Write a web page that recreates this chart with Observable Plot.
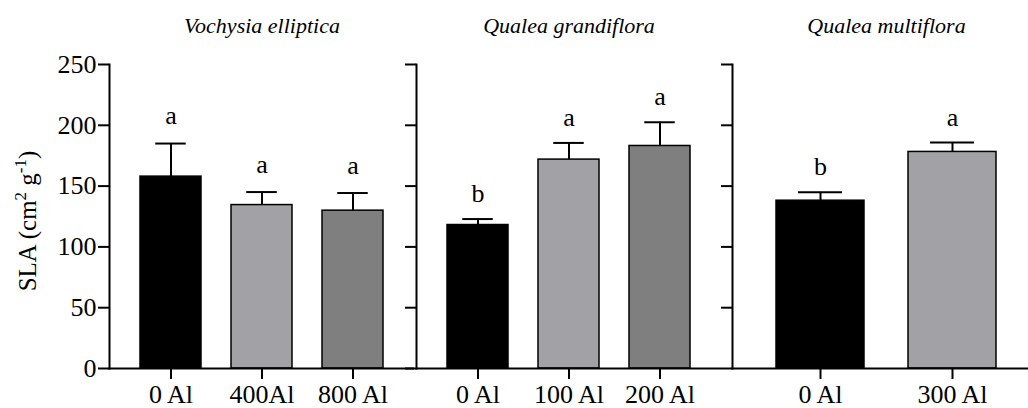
<!DOCTYPE html>
<html><head><meta charset="utf-8">
<script src="https://cdn.jsdelivr.net/npm/d3@7"></script>
<script src="https://cdn.jsdelivr.net/npm/@observablehq/plot@0.6"></script>
<style>
body{margin:0;background:#fff;}
#chart{position:relative;width:1028px;height:408px;overflow:hidden;background:#fff;}
#chart svg{position:absolute;top:0;}
</style></head><body><div id="chart"></div>
<script>
const species = ["Vochysia elliptica", "Qualea grandiflora", "Qualea multiflora"];

const treatments1 = ["0 Al", "400Al", "800 Al"];
const means1 = [157.8, 134.4, 129.8];
const se1 = [27.2, 10.7, 14.5];
const letters1 = ["a", "a", "a"];

const treatments2 = ["0 Al", "100 Al", "200 Al"];
const means2 = [118.0, 171.8, 183.0];
const se2 = [4.9, 13.7, 19.5];
const letters2 = ["b", "a", "a"];

const treatments3 = ["0 Al", "300 Al"];
const means3 = [138.0, 178.1];
const se3 = [6.9, 7.7];
const letters3 = ["b", "a"];

const yTicks = [0, 50, 100, 150, 200, 250];
const yLabel = "SLA (cm";

const barColors = ["#000000", "#a2a1a6", "#7f7f7f"];
const font = "'Liberation Serif', 'Times New Roman', serif";

function panel({left, marginLeft, width, title, treatments, means, se, letters, showY, letterDy}) {
  const data = treatments.map((t, i) => ({t, i, m: means[i], e: means[i] + se[i], l: letters[i]}));
  const range = width - marginLeft;
  const step = range / (treatments.length + 1/3);
  const bw = step * 2 / 3;
  const svg = Plot.plot({
    width, height: 408,
    marginLeft, marginRight: 0, marginTop: 64, marginBottom: 40,
    style: {fontFamily: font, fontSize: "26px", color: "black", background: "transparent"},
    x: {domain: treatments, paddingInner: 1/3, paddingOuter: 1/3, label: null},
    y: {domain: [0, 250], label: null},
    color: {type: "ordinal", domain: [0, 1, 2], range: barColors},
    marks: [
      Plot.ruleX(data, {x: "t", y1: "m", y2: "e", stroke: "black", strokeWidth: 2}),
      Plot.tickY(data, {x: "t", y: "e", stroke: "black", strokeWidth: 2, insetLeft: bw / 4, insetRight: bw / 4}),
      Plot.barY(data, {x: "t", y: "m", fill: "i", stroke: "black", strokeWidth: 1.5}),
      Plot.text(data, {x: "t", y: "e", text: "l", lineAnchor: "bottom", dy: -letterDy, fontSize: 26, fill: "black"}),
      Plot.axisY({ticks: yTicks, tickSize: 11, tickPadding: 2, strokeWidth: 2, fontSize: 26,
        tickFormat: showY ? (d => d) : (() => ""), label: null}),
      Plot.axisX({tickSize: 11, tickPadding: 5, strokeWidth: 2, fontSize: 26, label: null}),
      Plot.frame({anchor: "left", stroke: "black", strokeWidth: 2}),
      Plot.frame({anchor: "bottom", stroke: "black", strokeWidth: 2}),
      Plot.text([title], {frameAnchor: "top", lineAnchor: "bottom", dy: -32, fontStyle: "italic", fontSize: 22, fill: "black", ariaLabel: "title"})
    ]
  });
  svg.style.left = left + "px";
  d3.select(svg).selectAll('g[aria-label="title"] text').attr("letter-spacing", 0.8);
  return svg;
}

const chart = document.getElementById("chart");
const s1 = panel({left: 0, marginLeft: 109, width: 414, title: species[0], treatments: treatments1, means: means1, se: se1, letters: letters1, showY: true, letterDy: 19.5});
const s2 = panel({left: 396, marginLeft: 20, width: 325, title: species[1], treatments: treatments2, means: means2, se: se2, letters: letters2, showY: false, letterDy: 17});
const s3 = panel({left: 712, marginLeft: 20, width: 328, title: species[2], treatments: treatments3, means: means3, se: se3, letters: letters3, showY: false, letterDy: 17});
chart.append(s1, s2, s3);

const lab = d3.select(s1).append("text")
  .attr("transform", "translate(36,221) rotate(-90)")
  .attr("text-anchor", "middle")
  .attr("font-family", font)
  .attr("font-size", 25)
  .attr("fill", "black");
lab.append("tspan").text(yLabel);
lab.append("tspan").attr("font-size", 17).attr("dy", -10).text("2");
lab.append("tspan").attr("dy", 10).text(" g");
lab.append("tspan").attr("font-size", 17).attr("dy", -10).text("-1");
lab.append("tspan").attr("dy", 10).text(")");
</script></body></html>
